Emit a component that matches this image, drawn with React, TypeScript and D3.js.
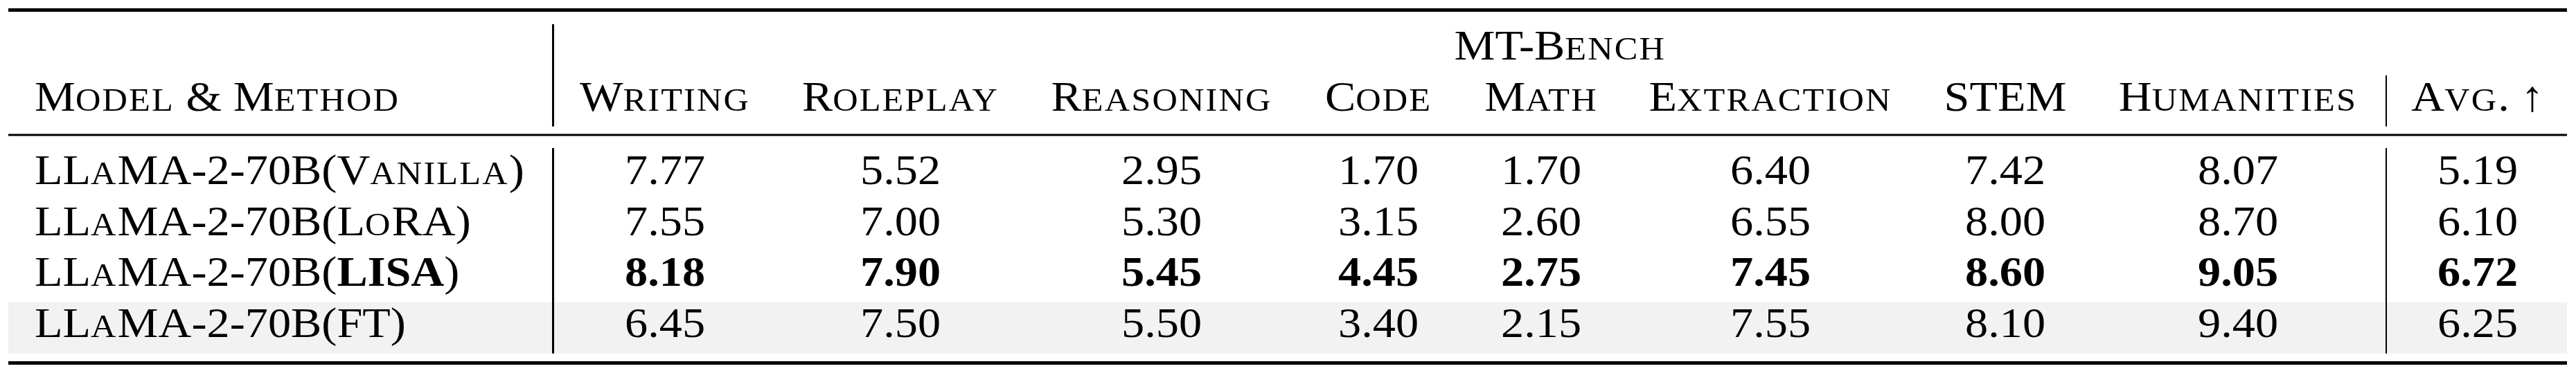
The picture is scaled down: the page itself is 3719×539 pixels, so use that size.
import { useEffect } from 'react'
import { scaleOrdinal, scalePoint } from 'd3'

// table content
const methods = ['Vanilla', 'LoRA', 'LISA', 'FT']
const categories = ['Writing', 'Roleplay', 'Reasoning', 'Code', 'Math', 'Extraction', 'STEM', 'Humanities']
const vanillaScores = [7.77, 5.52, 2.95, 1.7, 1.7, 6.4, 7.42, 8.07]
const loraScores = [7.55, 7.0, 5.3, 3.15, 2.6, 6.55, 8.0, 8.7]
const lisaScores = [8.18, 7.9, 5.45, 4.45, 2.75, 7.45, 8.6, 9.05]
const ftScores = [6.45, 7.5, 5.5, 3.4, 2.15, 7.55, 8.1, 9.4]
const avgScores = [5.19, 6.1, 6.72, 6.25]
const bestMethod = 'LISA'
const shadedMethod = 'FT'

const dimensions = {
  width: 3719,
  height: 539,
  left: 12,
  right: 3706,
  sep1: 798.5,
  sep2: 3445,
  textLeft: 50,
  fontSize: 62,
  stretch: 1.07,
  smallCaps: 0.76,
  scSpacing: 2,
}

const FONT = '"Liberation Serif", "Times New Roman", Times, serif'

const scoresByMethod: Record<string, number[]> = {
  Vanilla: vanillaScores,
  LoRA: loraScores,
  LISA: lisaScores,
  FT: ftScores,
}

const columns = [...categories, 'Avg']
const x = scaleOrdinal<string, number>()
  .domain(columns)
  .range([960, 1300, 1677, 1990, 2225, 2556, 2895, 3231, 3577])

const y = scalePoint<string>().domain(methods).range([266, 487])

// lowercase letters are drawn as small capitals, like \textsc
const sc = (str: string, keyPrefix: string, bold = false) => {
  const runs: { t: string; small: boolean }[] = []
  for (const ch of str) {
    const small = ch !== ch.toUpperCase()
    const last = runs[runs.length - 1]
    if (last && last.small === small) last.t += ch.toUpperCase()
    else runs.push({ t: ch.toUpperCase(), small })
  }
  return runs.map((r, i) => (
    <tspan
      key={keyPrefix + i}
      fontSize={r.small ? dimensions.fontSize * dimensions.smallCaps : dimensions.fontSize}
      letterSpacing={r.small ? dimensions.scSpacing : 0}
      fontWeight={bold ? 'bold' : 'normal'}
    >
      {r.t}
    </tspan>
  ))
}

const Label = ({ x, y, anchor = 'middle', bold = false, children }: any) => (
  <text
    transform={`translate(${x},${y}) scale(${dimensions.stretch},1)`}
    textAnchor={anchor}
    fontWeight={bold ? 'bold' : 'normal'}
  >
    {children}
  </text>
)

const App = () => {
  useEffect(() => {
    document.body.style.margin = '0'
  }, [])

  const bandTop = 436.7
  const bandBottom = 510.7

  return (
    <svg
      width={dimensions.width}
      height={dimensions.height}
      style={{ display: 'block', background: '#fff' }}
      fontFamily={FONT}
      fontSize={dimensions.fontSize}
    >
      {/* shaded row */}
      <rect
        x={dimensions.left}
        y={bandTop}
        width={dimensions.right - dimensions.left}
        height={bandBottom - bandTop}
        fill="#f2f2f2"
        opacity={methods.includes(shadedMethod) ? 1 : 0}
      />

      {/* rules */}
      <line x1={dimensions.left} x2={dimensions.right} y1={14.5} y2={14.5} stroke="#000" strokeWidth={5} />
      <line x1={dimensions.left} x2={dimensions.right} y1={195} y2={195} stroke="#000" strokeWidth={3} />
      <line x1={dimensions.left} x2={dimensions.right} y1={524.5} y2={524.5} stroke="#000" strokeWidth={5} />

      {/* vertical separators */}
      <line x1={dimensions.sep1} x2={dimensions.sep1} y1={35} y2={182.7} stroke="#000" strokeWidth={3} />
      <line x1={dimensions.sep1} x2={dimensions.sep1} y1={214} y2={bandBottom} stroke="#000" strokeWidth={3} />
      <line x1={dimensions.sep2} x2={dimensions.sep2} y1={109} y2={182.7} stroke="#000" strokeWidth={2} />
      <line x1={dimensions.sep2} x2={dimensions.sep2} y1={214} y2={bandBottom} stroke="#000" strokeWidth={2} />

      {/* header */}
      <Label x={(dimensions.sep1 + dimensions.right) / 2} y={86}>
        {sc('MT-Bench', 'mt')}
      </Label>
      <Label x={dimensions.textLeft} y={160} anchor="start">
        {sc('Model & Method', 'mm')}
      </Label>
      {categories.map(c => (
        <Label key={c} x={x(c)} y={160}>
          {sc(c, c)}
        </Label>
      ))}
      <Label x={x('Avg')} y={160}>
        {sc('Avg. ', 'avg')}
        <tspan>↑</tspan>
      </Label>

      {/* body */}
      {methods.map((m, i) => {
        const bold = m === bestMethod
        const row = scoresByMethod[m]
        return (
          <g key={m}>
            <Label x={dimensions.textLeft} y={y(m)} anchor="start">
              {sc('LLaMA-2-70B(', m + 'p')}
              {sc(m, m + 'm', bold)}
              <tspan>)</tspan>
            </Label>
            {categories.map((c, j) => (
              <Label key={c} x={x(c)} y={y(m)} bold={bold}>
                {row[j].toFixed(2)}
              </Label>
            ))}
            <Label x={x('Avg')} y={y(m)} bold={bold}>
              {avgScores[i].toFixed(2)}
            </Label>
          </g>
        )
      })}
    </svg>
  )
}

export default App
